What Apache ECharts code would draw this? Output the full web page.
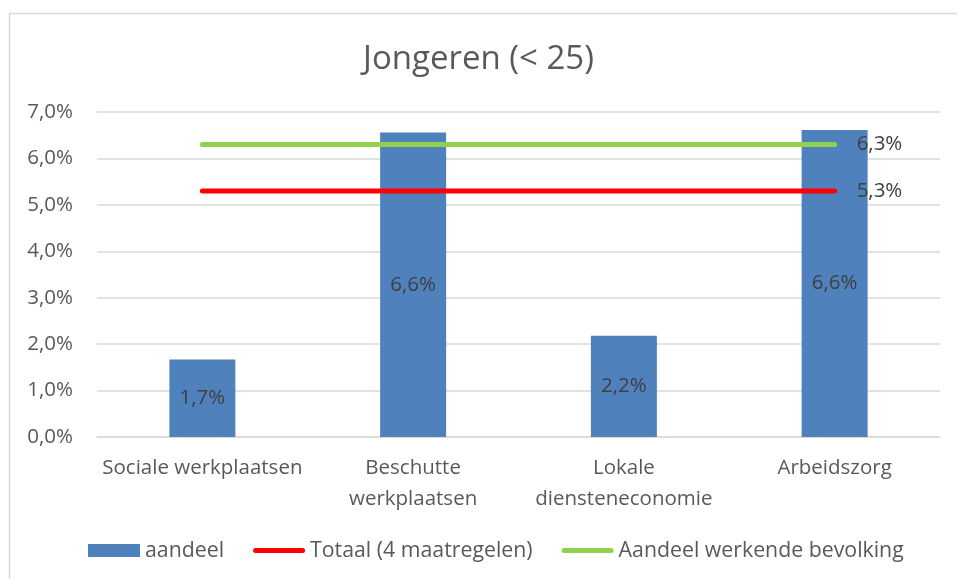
<!DOCTYPE html>
<html>
<head>
<meta charset="utf-8">
<script src="https://cdn.jsdelivr.net/npm/echarts@6/dist/echarts.min.js"></script>
<style>html,body{margin:0;padding:0;background:#fff}#c{width:957px;height:579px}</style>
</head>
<body>
<div id="c"></div>
<script>
const categories = ['Sociale werkplaatsen', 'Beschutte\nwerkplaatsen', 'Lokale\ndiensteneconomie', 'Arbeidszorg'];
const aandeel = [1.67, 6.56, 2.18, 6.61];
const totaal = [5.3, 5.3, 5.3, 5.3];
const werkend = [6.3, 6.3, 6.3, 6.3];
const yTicks = [0, 1, 2, 3, 4, 5, 6, 7];

const FONT = 'Open Sans';
const FS = 20.5;
const fmt = v => v.toFixed(1).replace('.', ',') + '%';
const lineIcon = 'path://M2.5,0 H49.5 A2.5,2.5 0 0 1 49.5,5 H2.5 A2.5,2.5 0 0 1 2.5,0 Z';

const chart = echarts.init(document.getElementById('c'));
chart.setOption({
  animation: false,
  textStyle: { fontFamily: FONT },
  graphic: [{
    type: 'rect', shape: { x: 9.5, y: 13.5, width: 1000, height: 1000 },
    style: { fill: 'none', stroke: '#d9d9d9', lineWidth: 1.5 }, silent: true
  }],
  title: {
    text: 'Jongeren (< 25)', left: 'center', top: 38,
    textStyle: { fontFamily: FONT, fontSize: 33, fontWeight: 'normal', color: '#595959' }
  },
  grid: { left: 97, right: 17, top: 112, bottom: 142 },
  xAxis: {
    type: 'category', data: categories,
    axisTick: { show: false },
    axisLine: { lineStyle: { color: '#d9d9d9', width: 1.5 } },
    axisLabel: { color: '#595959', fontSize: FS, margin: 16, lineHeight: 31, interval: 0 }
  },
  yAxis: {
    type: 'value', min: yTicks[0], max: yTicks[yTicks.length - 1], interval: 1,
    axisLabel: { color: '#595959', fontSize: FS, margin: 24, formatter: v => fmt(v) },
    splitLine: { lineStyle: { color: '#d9d9d9', width: 1.5 } },
    axisLine: { show: false }, axisTick: { show: false }
  },
  legend: {
    bottom: 13, left: 83, itemGap: 29, itemWidth: 52, itemHeight: 13,
    textStyle: { color: '#595959', fontSize: 21.3, fontFamily: FONT },
    data: [
      { name: 'aandeel', icon: 'rect' },
      { name: 'Totaal (4 maatregelen)', icon: lineIcon },
      { name: 'Aandeel werkende bevolking', icon: lineIcon }
    ]
  },
  series: [
    {
      name: 'aandeel', type: 'bar', data: aandeel, barWidth: 66,
      itemStyle: { color: '#4f81bd' },
      label: { show: true, position: 'inside', color: '#404040', fontSize: FS, formatter: p => fmt(p.value) }
    },
    {
      name: 'Totaal (4 maatregelen)', type: 'line', data: totaal, symbol: 'none',
      lineStyle: { color: '#ff0000', width: 5, cap: 'round' }, itemStyle: { color: '#ff0000' },
      endLabel: { show: true, color: '#404040', fontSize: FS, distance: 22, formatter: p => fmt(p.value) }
    },
    {
      name: 'Aandeel werkende bevolking', type: 'line', data: werkend, symbol: 'none',
      lineStyle: { color: '#92d050', width: 5, cap: 'round' }, itemStyle: { color: '#92d050' },
      endLabel: { show: true, color: '#404040', fontSize: FS, distance: 22, formatter: p => fmt(p.value) }
    }
  ]
});
</script>
</body>
</html>
